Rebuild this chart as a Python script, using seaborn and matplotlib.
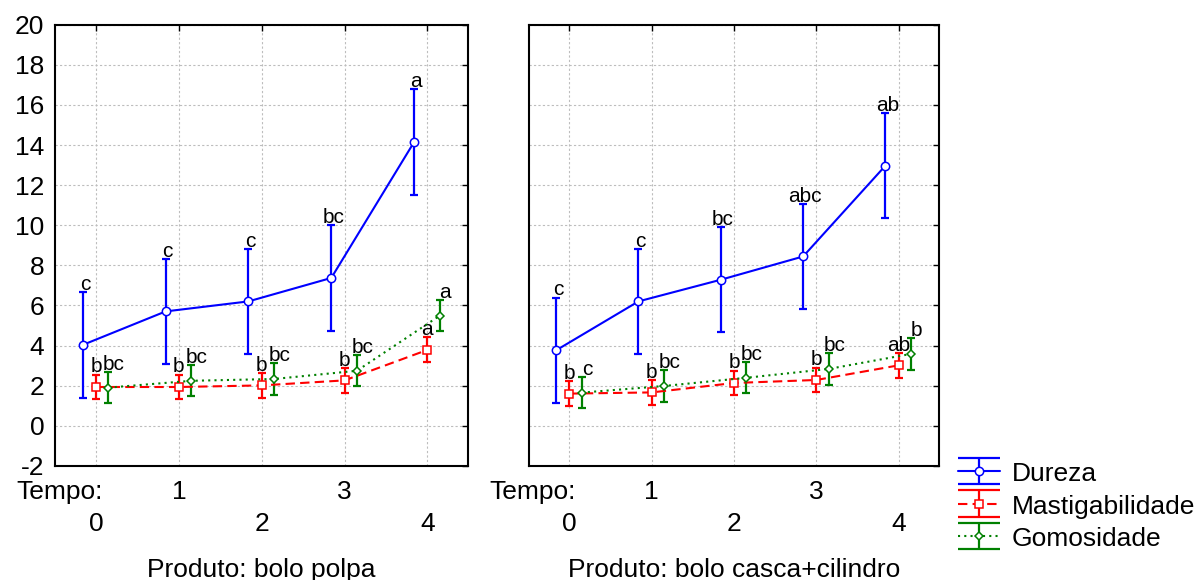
import pandas as pd
import numpy as np
import matplotlib
matplotlib.use("Agg")
import matplotlib.pyplot as plt
import seaborn as sns
from matplotlib.container import ErrorbarContainer

# dados
tempos = [0, 1, 2, 3, 4]
variaveis = ["Dureza", "Mastigabilidade", "Gomosidade"]
produtos = ["bolo polpa", "bolo casca+cilindro"]

dureza_polpa = [4.03, 5.70, 6.20, 7.37, 14.15]
mastig_polpa = [1.93, 1.93, 2.01, 2.26, 3.78]
gomos_polpa = [1.90, 2.24, 2.33, 2.74, 5.49]

dureza_casca = [3.76, 6.20, 7.28, 8.44, 12.97]
mastig_casca = [1.60, 1.66, 2.13, 2.28, 3.01]
gomos_casca = [1.65, 1.98, 2.39, 2.83, 3.58]

# meia amplitude dos intervalos (iguais em todos os tempos)
erro_dureza = 2.63
erro_mastig = 0.62
erro_gomos = 0.78

letras_dureza_polpa = ["c", "c", "c", "bc", "a"]
letras_mastig_polpa = ["b", "b", "b", "b", "a"]
letras_gomos_polpa = ["bc", "bc", "bc", "bc", "a"]
letras_dureza_casca = ["c", "c", "bc", "abc", "ab"]
letras_mastig_casca = ["b", "b", "b", "b", "ab"]
letras_gomos_casca = ["c", "bc", "bc", "bc", "b"]

medias = {
    ("bolo polpa", "Dureza"): dureza_polpa,
    ("bolo polpa", "Mastigabilidade"): mastig_polpa,
    ("bolo polpa", "Gomosidade"): gomos_polpa,
    ("bolo casca+cilindro", "Dureza"): dureza_casca,
    ("bolo casca+cilindro", "Mastigabilidade"): mastig_casca,
    ("bolo casca+cilindro", "Gomosidade"): gomos_casca,
}
letras = {
    ("bolo polpa", "Dureza"): letras_dureza_polpa,
    ("bolo polpa", "Mastigabilidade"): letras_mastig_polpa,
    ("bolo polpa", "Gomosidade"): letras_gomos_polpa,
    ("bolo casca+cilindro", "Dureza"): letras_dureza_casca,
    ("bolo casca+cilindro", "Mastigabilidade"): letras_mastig_casca,
    ("bolo casca+cilindro", "Gomosidade"): letras_gomos_casca,
}
erros = {"Dureza": erro_dureza, "Mastigabilidade": erro_mastig, "Gomosidade": erro_gomos}

estilo = {
    "Dureza": dict(cor="#0000ff", marker="o", ms=6, ls="-", desloc=-0.16, dx_letra=1.5),
    "Mastigabilidade": dict(cor="#ff0000", marker="s", ms=6, ls=(0, (4.5, 2.5)), desloc=0.0, dx_letra=0),
    "Gomosidade": dict(cor="#008000", marker="D", ms=4, ls=(0, (1, 2)), desloc=0.15, dx_letra=4),
}

linhas = []
for (prod, var), vals in medias.items():
    for t, m, l in zip(tempos, vals, letras[(prod, var)]):
        linhas.append({"Produto": prod, "Variavel": var, "Tempo": t,
                       "Media": m, "Erro": erros[var], "Letra": l})
df = pd.DataFrame(linhas)
df["x"] = df["Tempo"] + df["Variavel"].map(lambda v: estilo[v]["desloc"])

sns.set_theme(style="white")
plt.rcParams["font.family"] = ["Liberation Sans", "DejaVu Sans"]
plt.rcParams["font.size"] = 19
plt.rcParams["text.color"] = "black"
plt.rcParams["axes.labelcolor"] = "black"
plt.rcParams["axes.unicode_minus"] = False

fig = plt.figure(figsize=(12.03, 5.8), dpi=100)
ax1 = fig.add_axes([0.0461, 0.1969, 0.3429, 0.7605])
ax2 = fig.add_axes([0.4397, 0.1969, 0.3408, 0.7605], sharey=ax1)

handles = []
for ax, prod in zip([ax1, ax2], produtos):
    sub = df[df["Produto"] == prod]
    for var in variaveis:
        d = sub[sub["Variavel"] == var]
        s = estilo[var]
        ax.errorbar(d["x"], d["Media"], yerr=d["Erro"], fmt="none",
                    ecolor=s["cor"], elinewidth=1.6, capsize=3.2,
                    capthick=1.6, zorder=2)
        sns.lineplot(data=d, x="x", y="Media", ax=ax, color=s["cor"],
                     marker=s["marker"], markersize=s["ms"], linestyle=s["ls"],
                     linewidth=1.5, mfc="white", mec=s["cor"], mew=1.1,
                     legend=False, zorder=3)
        for _, r in d.iterrows():
            ax.annotate(r["Letra"], xy=(r["x"], r["Media"] + r["Erro"]),
                        xytext=(s["dx_letra"], 1.5), textcoords="offset points",
                        ha="center", va="baseline", fontsize=15, color="black")
        if prod == produtos[0]:
            linha = ax.lines[-1]
            leg = ax.errorbar([np.nan], [np.nan], yerr=[0.0], fmt="none",
                              ecolor=s["cor"], elinewidth=1.6, capsize=15,
                              capthick=1.6)
            handles.append(ErrorbarContainer((linha, leg.lines[1], leg.lines[2]),
                                             has_xerr=False, has_yerr=True,
                                             label=var))

    ax.set_xlim(-0.49, 4.49)
    ax.set_ylim(-2, 20)
    ax.set_yticks(np.arange(-2, 21, 2))
    ax.set_xticks([1, 3])
    ax.set_xticklabels(["1", "3"])
    ax.set_xticks([0, 2, 4], minor=True)
    ax.set_xticklabels(["0", "2", "4"], minor=True)
    ax.tick_params(which="both", direction="in", top=True, right=True,
                   length=4, width=1, colors="black", labelsize=19)
    ax.tick_params(axis="x", which="major", pad=10)
    ax.tick_params(axis="x", which="minor", pad=33)
    ax.tick_params(axis="y", pad=8)
    ax.grid(True, which="both", axis="x", color="#bdbdbd", linestyle=(0, (2, 2)), linewidth=0.8)
    ax.grid(True, which="major", axis="y", color="#bdbdbd", linestyle=(0, (2, 2)), linewidth=0.8)
    for sp in ax.spines.values():
        sp.set_color("black")
        sp.set_linewidth(1.5)
    ax.set_ylabel("")
    ax.set_xlabel("Produto: " + prod, fontsize=19, labelpad=16)
    ax.annotate("Tempo:", xy=(0.01, 0), xycoords="axes fraction",
                xytext=(0, -10), textcoords="offset points",
                ha="center", va="top", fontsize=19)

ax2.tick_params(axis="y", labelleft=False)

fig.legend(handles=handles, labels=variaveis, loc="lower left",
           bbox_to_anchor=(0.796, 0.05), frameon=False, fontsize=19,
           borderpad=0, borderaxespad=0, handlelength=1.6, handleheight=0.9,
           handletextpad=0.45, labelspacing=0.28)

fig.savefig("out.png", dpi=100)
